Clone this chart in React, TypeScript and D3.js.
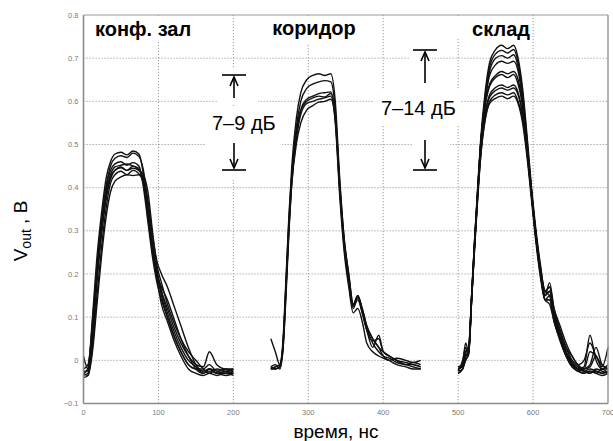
import React from "react";
import * as d3 from "d3";

// time grids (ns) for the three measurement groups
const tConf = [0, 6, 12, 18, 24, 30, 36, 42, 50, 58, 66, 74, 80, 86, 92, 98, 104, 112, 120, 130, 140, 150, 160, 168, 178, 190, 200];
const tCorr = [250, 256, 262, 266, 270, 274, 278, 284, 290, 298, 306, 314, 322, 330, 336, 342, 348, 354, 360, 366, 372, 378, 386, 394, 400, 408, 418, 430, 440, 450];
const tStore = [500, 506, 510, 514, 518, 522, 526, 530, 536, 542, 550, 558, 566, 574, 580, 586, 592, 598, 604, 610, 616, 622, 628, 636, 644, 652, 660, 668, 676, 684, 692, 700];

// конф. зал
const vConf = [
  [-0.03, -0.02, 0.1, 0.24, 0.34, 0.42, 0.46, 0.478, 0.482, 0.476, 0.485, 0.478, 0.43, 0.35, 0.26, 0.2, 0.15, 0.1, 0.06, 0.02, -0.01, -0.02, -0.025, -0.02, -0.03, -0.025, -0.03],
  [-0.035, -0.03, 0.06, 0.2, 0.31, 0.4, 0.45, 0.468, 0.474, 0.47, 0.48, 0.472, 0.44, 0.36, 0.27, 0.21, 0.16, 0.11, 0.07, 0.03, 0.0, -0.015, -0.03, -0.02, -0.025, -0.03, -0.025],
  [-0.02, -0.01, 0.08, 0.21, 0.31, 0.39, 0.43, 0.448, 0.452, 0.455, 0.45, 0.445, 0.41, 0.33, 0.25, 0.19, 0.13, 0.09, 0.05, 0.01, -0.02, -0.03, -0.035, -0.03, -0.035, -0.03, -0.03],
  [0.01, -0.02, 0.05, 0.18, 0.29, 0.37, 0.42, 0.44, 0.448, 0.44, 0.45, 0.44, 0.42, 0.35, 0.27, 0.2, 0.16, 0.12, 0.08, 0.04, 0.01, -0.01, -0.015, 0.02, -0.01, -0.02, -0.02],
  [-0.03, -0.035, 0.03, 0.15, 0.26, 0.35, 0.41, 0.43, 0.438, 0.43, 0.44, 0.432, 0.41, 0.34, 0.26, 0.2, 0.17, 0.14, 0.1, 0.05, 0.01, -0.02, -0.03, -0.025, -0.03, -0.035, -0.03],
  [-0.025, -0.025, 0.07, 0.2, 0.3, 0.38, 0.425, 0.44, 0.446, 0.44, 0.445, 0.44, 0.43, 0.39, 0.3, 0.22, 0.18, 0.13, 0.09, 0.05, 0.02, 0.0, -0.02, -0.03, -0.02, -0.025, -0.02],
  [-0.04, -0.035, 0.02, 0.13, 0.24, 0.33, 0.39, 0.415, 0.425, 0.43, 0.428, 0.43, 0.42, 0.37, 0.29, 0.23, 0.2, 0.17, 0.13, 0.08, 0.03, -0.01, -0.025, -0.02, -0.03, -0.03, -0.035],
  [-0.03, -0.02, 0.09, 0.22, 0.32, 0.4, 0.44, 0.455, 0.46, 0.452, 0.458, 0.45, 0.4, 0.32, 0.24, 0.18, 0.14, 0.1, 0.06, 0.02, -0.01, -0.02, -0.02, -0.01, -0.025, -0.02, -0.025],
];

// коридор
const vCorr = [
  [-0.02, -0.015, -0.01, 0.04, 0.18, 0.33, 0.45, 0.56, 0.62, 0.65, 0.66, 0.664, 0.66, 0.664, 0.6, 0.42, 0.28, 0.2, 0.13, 0.15, 0.12, 0.08, 0.05, 0.03, 0.02, 0.01, 0.0, -0.005, -0.01, -0.015],
  [-0.015, -0.02, -0.015, 0.03, 0.16, 0.31, 0.43, 0.54, 0.6, 0.63, 0.64, 0.645, 0.648, 0.645, 0.58, 0.4, 0.27, 0.19, 0.125, 0.15, 0.115, 0.075, 0.04, 0.02, 0.01, 0.005, -0.005, -0.01, -0.015, -0.02],
  [0.05, 0.02, -0.01, 0.02, 0.15, 0.3, 0.42, 0.52, 0.58, 0.605, 0.612, 0.618, 0.62, 0.622, 0.56, 0.39, 0.26, 0.18, 0.12, 0.145, 0.11, 0.07, 0.045, 0.05, 0.02, 0.01, 0.0, -0.01, -0.01, -0.015],
  [-0.02, -0.02, -0.015, 0.03, 0.17, 0.32, 0.43, 0.53, 0.58, 0.6, 0.608, 0.612, 0.61, 0.618, 0.57, 0.41, 0.28, 0.2, 0.13, 0.15, 0.12, 0.08, 0.05, 0.03, 0.01, 0.0, -0.01, -0.015, -0.02, -0.02],
  [-0.015, -0.01, -0.02, 0.02, 0.14, 0.29, 0.41, 0.51, 0.57, 0.595, 0.6, 0.605, 0.608, 0.612, 0.55, 0.38, 0.25, 0.17, 0.11, 0.12, 0.09, 0.04, 0.02, 0.01, 0.005, 0.0, 0.005, 0.0, -0.005, 0.0],
  [-0.02, -0.015, -0.01, 0.03, 0.16, 0.3, 0.41, 0.5, 0.55, 0.58, 0.59, 0.598, 0.6, 0.605, 0.56, 0.4, 0.27, 0.19, 0.125, 0.14, 0.11, 0.07, 0.03, 0.058, 0.02, 0.01, 0.0, -0.01, -0.005, -0.01],
];

// склад
const vStore = [
  [-0.02, -0.01, 0.01, 0.02, 0.15, 0.28, 0.4, 0.51, 0.62, 0.69, 0.72, 0.73, 0.722, 0.73, 0.7, 0.63, 0.52, 0.4, 0.3, 0.22, 0.16, 0.17, 0.11, 0.06, 0.02, -0.005, -0.02, -0.025, -0.02, -0.025, -0.03, -0.025],
  [-0.025, 0.0, 0.03, 0.01, 0.14, 0.27, 0.39, 0.5, 0.61, 0.68, 0.71, 0.718, 0.712, 0.72, 0.69, 0.62, 0.51, 0.39, 0.29, 0.21, 0.15, 0.16, 0.1, 0.05, 0.01, -0.01, -0.02, -0.015, 0.058, 0.0, -0.02, -0.02],
  [-0.02, -0.015, 0.0, 0.015, 0.14, 0.27, 0.39, 0.5, 0.6, 0.67, 0.7, 0.706, 0.7, 0.708, 0.68, 0.61, 0.5, 0.38, 0.28, 0.2, 0.15, 0.18, 0.12, 0.07, 0.03, 0.0, -0.015, -0.025, -0.03, -0.02, -0.025, -0.03],
  [-0.03, -0.02, 0.02, 0.03, 0.15, 0.28, 0.39, 0.5, 0.6, 0.66, 0.685, 0.693, 0.688, 0.693, 0.67, 0.6, 0.5, 0.39, 0.29, 0.21, 0.15, 0.16, 0.11, 0.06, 0.02, -0.01, -0.025, -0.02, -0.01, 0.03, -0.01, -0.02],
  [-0.015, -0.01, 0.01, 0.02, 0.14, 0.27, 0.38, 0.49, 0.59, 0.64, 0.66, 0.669, 0.664, 0.669, 0.65, 0.59, 0.49, 0.38, 0.28, 0.2, 0.14, 0.15, 0.1, 0.05, 0.01, -0.015, -0.025, -0.03, -0.025, -0.03, -0.02, -0.03],
  [-0.02, -0.005, 0.04, 0.02, 0.15, 0.28, 0.39, 0.5, 0.59, 0.635, 0.655, 0.662, 0.655, 0.662, 0.64, 0.59, 0.5, 0.39, 0.29, 0.21, 0.16, 0.17, 0.12, 0.08, 0.04, 0.01, -0.01, -0.02, 0.02, 0.01, -0.015, 0.03],
  [-0.025, -0.02, 0.0, 0.02, 0.14, 0.26, 0.38, 0.48, 0.57, 0.615, 0.632, 0.638, 0.632, 0.638, 0.62, 0.57, 0.48, 0.38, 0.28, 0.2, 0.14, 0.14, 0.09, 0.05, 0.015, -0.01, -0.02, -0.025, -0.03, -0.025, -0.03, -0.025],
  [-0.02, -0.01, 0.02, 0.03, 0.15, 0.27, 0.38, 0.48, 0.57, 0.61, 0.625, 0.631, 0.626, 0.631, 0.615, 0.57, 0.49, 0.39, 0.29, 0.21, 0.16, 0.15, 0.11, 0.07, 0.03, 0.01, -0.01, 0.0, 0.04, 0.01, -0.01, -0.02],
  [-0.03, -0.02, 0.01, 0.02, 0.14, 0.26, 0.37, 0.47, 0.56, 0.6, 0.615, 0.62, 0.615, 0.62, 0.6, 0.56, 0.48, 0.38, 0.28, 0.2, 0.14, 0.13, 0.09, 0.045, 0.01, -0.015, -0.025, -0.03, -0.025, -0.03, -0.035, -0.03],
  [-0.015, -0.01, 0.02, 0.02, 0.15, 0.27, 0.38, 0.47, 0.555, 0.595, 0.607, 0.612, 0.606, 0.612, 0.595, 0.55, 0.47, 0.37, 0.27, 0.19, 0.14, 0.14, 0.1, 0.06, 0.02, 0.0, -0.015, -0.02, -0.015, 0.01, -0.02, -0.01],
];

const xTicks = [0, 100, 200, 300, 400, 500, 600, 700];
const yTicks = [-0.1, 0, 0.1, 0.2, 0.3, 0.4, 0.5, 0.6, 0.7, 0.8];

const W = 613;
const H = 441;
const gridColor = "#9a9a9a";
const tickColor = "#7a7a7a";

export default function App() {
  const x = d3.scaleLinear().domain([0, 700]).range([83.5, 608]);
  const y = d3.scaleLinear().domain([-0.1, 0.8]).range([403.5, 15]);

  const line = d3
    .line<[number, number]>()
    .x((d) => x(d[0]))
    .y((d) => y(d[1]))
    .curve(d3.curveMonotoneX);

  const paths: string[] = [];
  const groups: [number[], number[][]][] = [
    [tConf, vConf],
    [tCorr, vCorr],
    [tStore, vStore],
  ];
  groups.forEach(([ts, series]) => {
    series.forEach((vs) => {
      paths.push(line(ts.map((t, i) => [t, vs[i]] as [number, number])) || "");
    });
  });

  const fontSans = "Liberation Sans, Arial, sans-serif";

  // vertical double-arrow annotation
  const arrow = (cx: number, yTop: number, yBot: number, upEnd: number, downStart: number) => (
    <g stroke="#000" strokeWidth={1.6} fill="none">
      <line x1={cx - 12} x2={cx + 12} y1={yTop} y2={yTop} />
      <line x1={cx} x2={cx} y1={upEnd} y2={yTop + 3} />
      <path d={`M${cx - 4},${yTop + 11} L${cx},${yTop + 2} L${cx + 4},${yTop + 11}`} />
      <line x1={cx - 12} x2={cx + 12} y1={yBot} y2={yBot} />
      <line x1={cx} x2={cx} y1={downStart} y2={yBot - 3} />
      <path d={`M${cx - 4},${yBot - 11} L${cx},${yBot - 2} L${cx + 4},${yBot - 11}`} />
    </g>
  );

  return (
    <svg width={W} height={H} style={{ position: "absolute", left: 0, top: 0, background: "#fff" }}>
      {/* grid */}
      <g stroke={gridColor} strokeWidth={1} strokeDasharray="1.2,1.8">
        {xTicks.slice(1, -1).map((t) => (
          <line key={"gx" + t} x1={x(t)} x2={x(t)} y1={y(0.8)} y2={y(-0.1)} />
        ))}
        {yTicks.slice(1, -1).map((v) => (
          <line key={"gy" + v} x1={x(0)} x2={x(700)} y1={y(v)} y2={y(v)} />
        ))}
      </g>

      {/* white patches under the texts and arrows */}
      <g fill="#fff">
        <rect x={90} y={16} width={110} height={24} />
        <rect x={268} y={16} width={94} height={29} />
        <rect x={455} y={16} width={76} height={22} />
        <rect x={218} y={68} width={40} height={36} />
        <rect x={205} y={106} width={77} height={44} />
        <rect x={218} y={140} width={32} height={38} />
        <rect x={410} y={44} width={22} height={44} />
        <rect x={373} y={90} width={87} height={34} />
        <rect x={412} y={124} width={38} height={54} />
      </g>

      {/* curves */}
      <g fill="none" stroke="#111" strokeWidth={1.4} strokeLinejoin="round">
        {paths.map((d, i) => (
          <path key={i} d={d} />
        ))}
      </g>

      {/* frame */}
      <g fill="none">
        <line x1={x(0)} x2={x(700)} y1={y(0.8)} y2={y(0.8)} stroke="#999" strokeWidth={1} />
        <line x1={x(700)} x2={x(700)} y1={y(0.8)} y2={y(-0.1)} stroke="#999" strokeWidth={1.5} />
        <line x1={x(0)} x2={x(0)} y1={y(0.8)} y2={y(-0.1)} stroke="#8c8c8c" strokeWidth={1.6} />
        <line x1={x(0)} x2={x(700)} y1={y(-0.1)} y2={y(-0.1)} stroke="#8c8c8c" strokeWidth={1.6} />
      </g>

      {/* tick labels */}
      <g fill={tickColor} fontFamily={fontSans} fontSize={7.5}>
        {yTicks.map((v) => (
          <text key={"ty" + v} x={x(0) - 5} y={y(v) + 2.6} textAnchor="end">
            {v === 0 ? "0" : d3.format(".1f")(v)}
          </text>
        ))}
        {xTicks.map((t) => (
          <text key={"tx" + t} x={x(t)} y={y(-0.1) + 11} textAnchor="middle">
            {t}
          </text>
        ))}
      </g>

      {/* group titles */}
      <g fontFamily={fontSans} fontWeight="bold" fontSize={20} fill="#000">
        <text x={95} y={36}>конф. зал</text>
        <text x={314} y={35} textAnchor="middle">коридор</text>
        <text x={501} y={36} textAnchor="middle">склад</text>
      </g>

      {/* level-spread annotations */}
      {arrow(234, 75, 170, 98, 143)}
      {arrow(425, 50, 170, 83, 140)}
      <g fontFamily={fontSans} fontSize={20} fill="#000">
        <text x={212} y={130}>7–9 дБ</text>
        <text x={381} y={115}>7–14 дБ</text>
      </g>

      {/* axis titles */}
      <text x={336} y={438} textAnchor="middle" fontFamily={fontSans} fontSize={19} fill="#000">
        время, нс
      </text>
      <text transform="translate(27,231) rotate(-90)" textAnchor="middle" fontFamily={fontSans} fontSize={19} fill="#000">
        V<tspan fontSize={14} dy={4}>out</tspan>
        <tspan dy={-4}> , B</tspan>
      </text>
    </svg>
  );
}
